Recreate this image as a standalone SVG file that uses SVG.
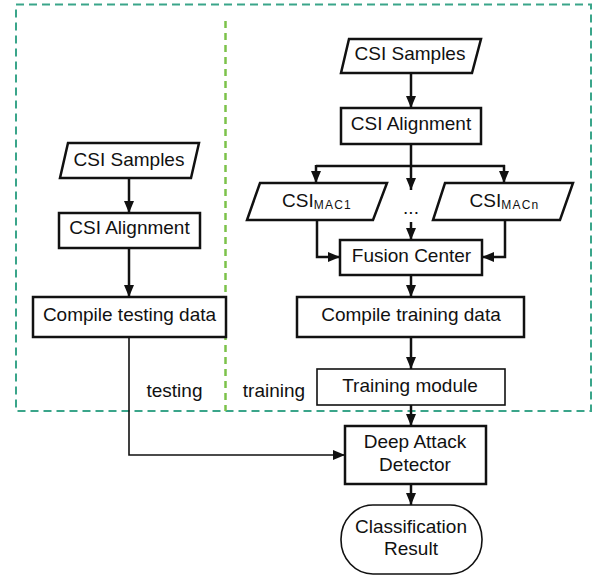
<svg xmlns="http://www.w3.org/2000/svg" width="603" height="577" viewBox="0 0 603 577">
<style>
text{font-family:"Liberation Sans",Arial,sans-serif;font-size:19px;fill:#111;text-anchor:middle}
.sub{font-size:12px;letter-spacing:1.2px}
.box{fill:#fff;stroke:#111;stroke-width:2.5}
.thin{fill:#fff;stroke:#111;stroke-width:1.6}
.c{fill:none;stroke:#111;stroke-width:2.5}
.ct{fill:none;stroke:#111;stroke-width:1.6}
</style>
<defs>
<marker id="ah" viewBox="0 0 12 10" refX="12" refY="5" markerWidth="12" markerHeight="10" markerUnits="userSpaceOnUse" orient="auto">
<path d="M0,0 L12,5 L0,10 z" fill="#111"/>
</marker>
</defs>
<rect x="16" y="4.5" width="575" height="406.5" fill="none" stroke="#3aa58a" stroke-width="2" stroke-dasharray="8,5"/>
<line x1="225.5" y1="21" x2="225.5" y2="411" stroke="#7cc24a" stroke-width="2.5" stroke-dasharray="7,5"/>
<g id="connectors">
<line class="c" x1="129" y1="178" x2="129" y2="213" marker-end="url(#ah)"/>
<line class="c" x1="129" y1="248" x2="129" y2="297" marker-end="url(#ah)"/>
<polyline class="ct" points="129,337 129,455 345,455" marker-end="url(#ah)"/>
<line class="c" x1="411" y1="73" x2="411" y2="108" marker-end="url(#ah)"/>
<line class="c" x1="411" y1="144" x2="411" y2="166"/>
<line class="c" x1="316" y1="166" x2="505" y2="166"/>
<line class="c" x1="316" y1="165" x2="316" y2="183" marker-end="url(#ah)"/>
<line class="c" x1="504" y1="165" x2="504" y2="183" marker-end="url(#ah)"/>
<line class="c" x1="411" y1="166" x2="411" y2="190" marker-end="url(#ah)"/>
<line class="c" x1="411" y1="222" x2="411" y2="240" marker-end="url(#ah)"/>
<polyline class="c" points="317,220 317,257 340,257" marker-end="url(#ah)"/>
<polyline class="c" points="505,220 505,257 482,257" marker-end="url(#ah)"/>
<line class="c" x1="411" y1="275" x2="411" y2="297" marker-end="url(#ah)"/>
<line class="c" x1="411" y1="337" x2="411" y2="369" marker-end="url(#ah)"/>
<line class="c" x1="411" y1="405" x2="411" y2="426" marker-end="url(#ah)"/>
<line class="c" x1="411" y1="484" x2="411" y2="505" marker-end="url(#ah)"/>
</g>
<g id="left-samples">
<polygon class="box" points="68,143 199,143 191,178 60,178"/>
<text x="129" y="166">CSI Samples</text>
</g>
<g id="left-alignment">
<rect class="box" x="59" y="213" width="141" height="35"/>
<text x="129.5" y="234">CSI Alignment</text>
</g>
<g id="compile-testing">
<rect class="box" x="33" y="297" width="193" height="40"/>
<text x="129.5" y="321">Compile testing data</text>
</g>
<g id="label-testing"><text x="174.5" y="397">testing</text></g>
<g id="label-training"><text x="274" y="397">training</text></g>
<g id="right-samples">
<polygon class="box" points="349,39 481,39 472,73 341,73"/>
<text x="410" y="60">CSI Samples</text>
</g>
<g id="right-alignment">
<rect class="box" x="341" y="108" width="140" height="36"/>
<text x="411" y="130">CSI Alignment</text>
</g>
<g id="csi-mac1">
<polygon class="box" points="260,183 387,183 373,220 247,220"/>
<text x="317" y="207">CSI<tspan class="sub" dy="2">MAC1</tspan></text>
</g>
<g id="dots"><text x="411" y="214">...</text></g>
<g id="csi-macn">
<polygon class="box" points="445,183 573,183 560,220 433,220"/>
<text x="504.5" y="207">CSI<tspan class="sub" dy="2">MACn</tspan></text>
</g>
<g id="fusion-center">
<rect class="box" x="340" y="240" width="142" height="35"/>
<text x="411.5" y="262">Fusion Center</text>
</g>
<g id="compile-training">
<rect class="box" x="297" y="297" width="227" height="40"/>
<text x="411" y="321">Compile training data</text>
</g>
<g id="training-module">
<rect class="thin" x="317" y="369" width="188" height="36"/>
<text x="410" y="392">Training module</text>
</g>
<g id="deep-attack-detector">
<rect class="box" x="345" y="426" width="141" height="58"/>
<text x="415" y="448">Deep Attack</text>
<text x="415" y="471">Detector</text>
</g>
<g id="classification-result">
<rect class="thin" x="341" y="505" width="141" height="69" rx="32" ry="34"/>
<text x="411" y="533">Classification</text>
<text x="411" y="555">Result</text>
</g>
</svg>
